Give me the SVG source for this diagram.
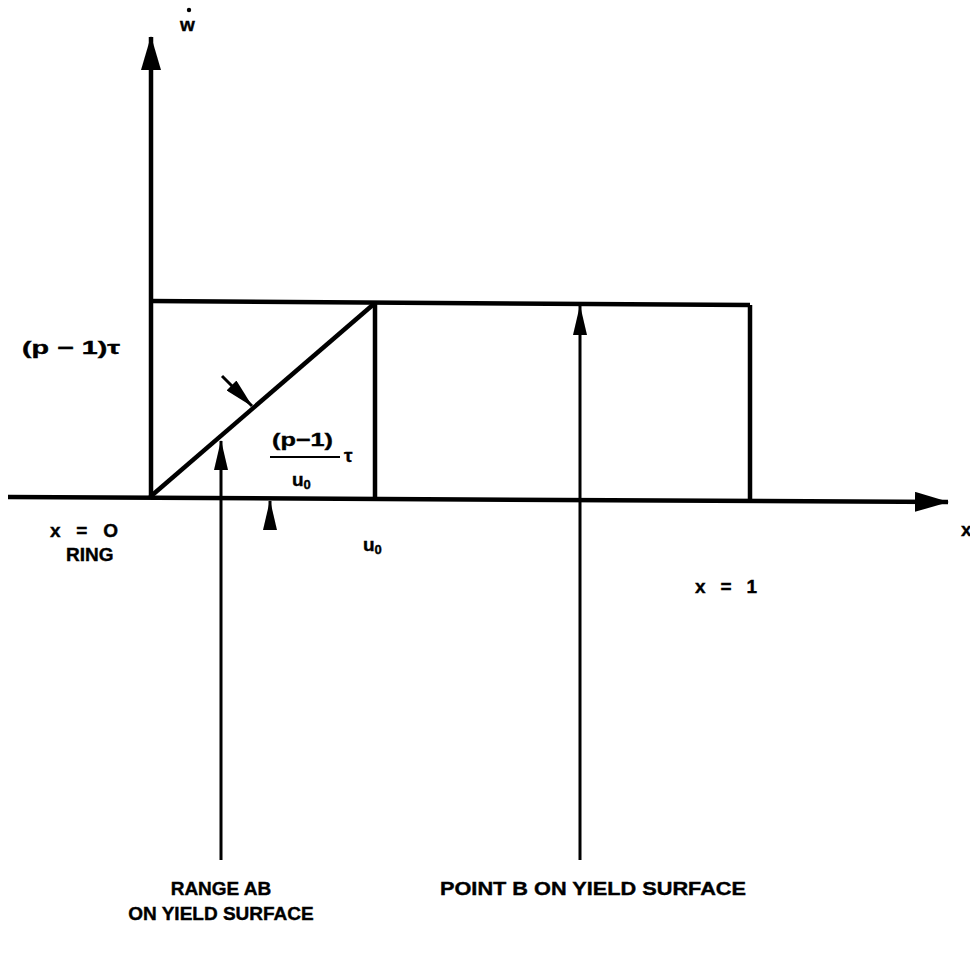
<svg xmlns="http://www.w3.org/2000/svg" width="970" height="962" viewBox="0 0 970 962">
<style>
.ln{stroke:#000;stroke-width:4.5;fill:none;stroke-linecap:butt}
.th{stroke:#000;stroke-width:3;fill:none}
.t{font-family:"Liberation Sans",Arial,sans-serif;font-weight:bold;font-size:19px;fill:#000;stroke:#000;stroke-width:0.4}
</style>
<defs>
<marker id="ahL" markerWidth="34" markerHeight="20" refX="33" refY="10" orient="auto" markerUnits="userSpaceOnUse" viewBox="0 0 34 20"><path d="M0,0 L34,10 L0,20 Z" fill="#000"/></marker>
<marker id="ahM" markerWidth="30" markerHeight="14" refX="29" refY="7" orient="auto" markerUnits="userSpaceOnUse" viewBox="0 0 30 14"><path d="M0,0 L30,7 L0,14 Z" fill="#000"/></marker>
</defs>
<rect width="970" height="962" fill="#fff"/>
<g id="connectors">
<line class="ln" x1="151" y1="497" x2="151" y2="37" marker-end="url(#ahL)"/>
<line class="ln" x1="8" y1="497" x2="948" y2="502" marker-end="url(#ahL)"/>
<line class="ln" x1="150" y1="301" x2="750" y2="305"/>
<line class="ln" x1="375" y1="303" x2="375" y2="498"/>
<line class="ln" x1="750" y1="305" x2="750" y2="500"/>
<line class="ln" x1="150" y1="497" x2="375" y2="303"/>
<line class="th" x1="222" y1="376" x2="252" y2="406" marker-end="url(#ahM)"/>
<line class="th" x1="221" y1="860" x2="221" y2="441" marker-end="url(#ahM)"/>
<line class="th" x1="270" y1="530" x2="270" y2="501" marker-end="url(#ahM)"/>
<line class="th" x1="580" y1="860" x2="580" y2="306" marker-end="url(#ahM)"/>
<line x1="270" y1="457" x2="340" y2="457" stroke="#000" stroke-width="2"/>
</g>
<g id="labels">
<text class="t" x="180" y="31" font-size="22">w</text>
<circle cx="189" cy="10" r="2.2" fill="#000"/>
<text class="t" x="961" y="536">x</text>
<text class="t" x="22" y="354" textLength="98" lengthAdjust="spacingAndGlyphs">(p − 1)τ</text>
<text class="t" x="272" y="446" textLength="61" lengthAdjust="spacingAndGlyphs">(p−1)</text>
<text class="t" x="344" y="462" font-size="15">τ</text>
<text class="t" x="292" y="486">u<tspan font-size="13" dy="3">0</tspan></text>
<text class="t" x="363" y="551">u<tspan font-size="13" dy="3">0</tspan></text>
<text class="t" x="50" y="537" textLength="68" lengthAdjust="spacing">x&#160;&#160;=&#160;&#160;O</text>
<text class="t" x="66" y="561">RING</text>
<text class="t" x="695" y="593" textLength="62" lengthAdjust="spacing">x&#160;&#160;=&#160;&#160;1</text>
<text class="t" x="221" y="895" text-anchor="middle">RANGE AB</text>
<text class="t" x="221" y="920" text-anchor="middle">ON YIELD SURFACE</text>
<text class="t" x="440" y="895" textLength="306" lengthAdjust="spacingAndGlyphs">POINT B ON YIELD SURFACE</text>
</g>
</svg>
